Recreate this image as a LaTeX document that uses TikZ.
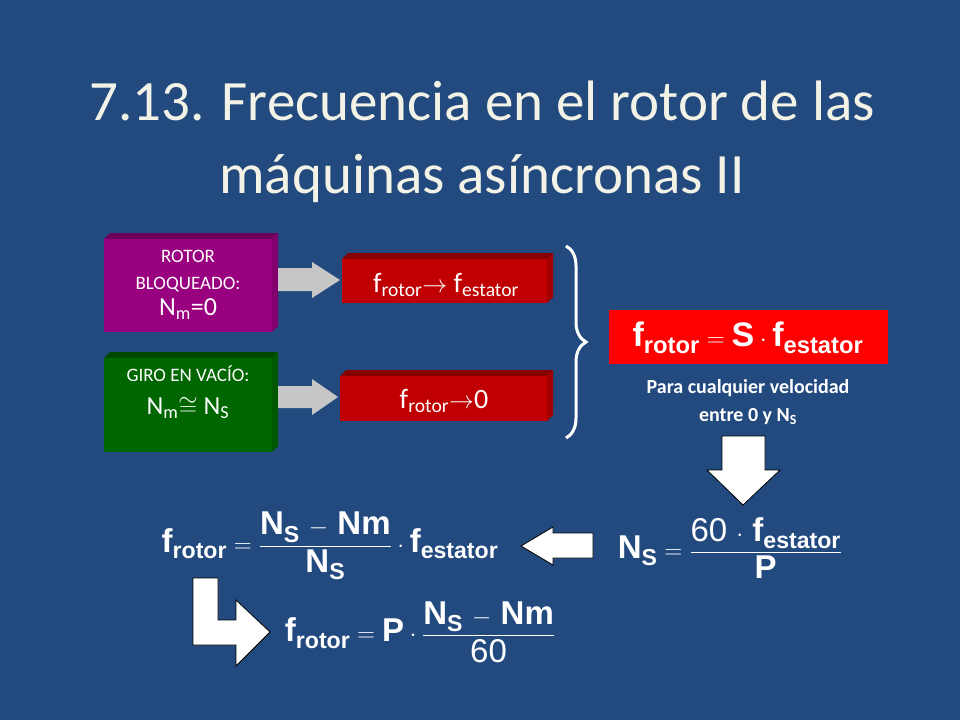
\documentclass[tikz,border=0pt]{standalone}
\usepackage{fontspec}
\usepackage{amsmath}
\usetikzlibrary{decorations.pathreplacing}
\setmainfont{Carlito}
\newfontfamily\arialb[BoldFont={Liberation Sans Bold}]{Liberation Sans}
\definecolor{bg}{HTML}{234A7E}
\definecolor{magb}{HTML}{990080}
\definecolor{grnb}{HTML}{006600}
\definecolor{redb}{HTML}{C00000}
\definecolor{titlec}{HTML}{F2F2E6}
\newcommand\sbs[1]{\textsubscript{#1}}
\newcommand\fa[1]{\hbox{\arialb\bfseries #1}}
\begin{document}
\begin{tikzpicture}[x=1pt,y=-1pt,
  whitearrow/.style={fill=white,draw=black,line width=0.8pt}]
\fill[bg] (0,0) rectangle (960,720);
\useasboundingbox (0,0) rectangle (960,720);
% title
\node[text=titlec,font=\fontsize{57}{73}\selectfont,align=center] (title) at (482,142) {7.13. Frecuencia en el rotor de las\\máquinas asíncronas II};
% 3D boxes
\newcommand\boxthree[5]{%
 \fill[#5!70!black] (#1,#2) -- ++(6,-6) -- (#3+6,#2-6) -- (#3,#2) -- cycle;
 \fill[#5!85!black] (#3,#2) -- (#3+6,#2-6) -- (#3+6,#4-6) -- (#3,#4) -- cycle;
 \fill[#5] (#1,#2) rectangle (#3,#4);}
\boxthree{104}{239}{272}{332}{magb}
\boxthree{104}{358}{272}{452}{grnb}
\boxthree{342}{259}{547}{303}{redb}
\boxthree{340}{376}{547}{421}{redb}
\fill[red] (609,310) rectangle (888,364);
\node[text=white,font=\fontsize{19}{27}\selectfont,align=center] (rb) at (188,285) {ROTOR\\BLOQUEADO:\\[-1pt]{\fontsize{26}{28}\selectfont N\sbs{m}=0}};
\node[text=white,font=\fontsize{19}{33}\selectfont,align=center] (gv) at (188,392) {GIRO EN VACÍO:\\{\fontsize{26}{28}\selectfont N\sbs{m}$\cong$ N\sbs{S}}};
\node[text=white,font=\fontsize{28}{30}\selectfont] (r1) at (446,285) {f\sbs{rotor}$\rightarrow$ f\sbs{estator}};
\node[text=white,font=\fontsize{28}{30}\selectfont] (r2) at (444,401) {f\sbs{rotor}$\rightarrow$0};
% gray arrows
\fill[gray!45] (278,268) -- (312,268) -- (312,262) -- (340,280) -- (312,298) -- (312,291) -- (278,291) -- cycle;
\fill[gray!45] (278,386) -- (312,386) -- (312,379) -- (338,397) -- (312,415) -- (312,408) -- (278,408) -- cycle;
% brace
\draw[white,line width=3pt,decorate,decoration={brace,amplitude=20pt}] (566,246) -- (566,438);
% red formula
\node[text=white,font=\fontsize{34}{36}\selectfont] (fs) at (748,338) {$\fa{f\textsubscript{rotor}} = \fa{S}\cdot \fa{f\textsubscript{estator}}$};
\node[text=white,font=\bfseries\fontsize{20}{28}\selectfont,align=center] (para) at (748,402) {Para cualquier velocidad\\entre 0 y N\sbs{S}};
% down arrow
\draw[whitearrow] (722,436) -- (765,436) -- (765,470) -- (780,470) -- (743,505) -- (707,470) -- (722,470) -- cycle;
% NS formula
\node[text=white,font=\fontsize{33}{36}\selectfont] (ns) at (730,548) {$\fa{N\textsubscript{S}} = \dfrac{\fa{\mdseries 60 $\cdot$ \bfseries f\textsubscript{estator}}}{\fa{P}}$};
% left arrow
\draw[whitearrow] (593,533) -- (553,533) -- (553,527) -- (521,546) -- (553,565) -- (553,558) -- (593,558) -- cycle;
% formula 1
\node[text=white,font=\fontsize{33}{36}\selectfont] (f1) at (330,546) {$\fa{f\textsubscript{rotor}} = \dfrac{\fa{N\textsubscript{S} $-$ Nm}}{\fa{N\textsubscript{S}}}\cdot\fa{f\textsubscript{estator}}$};
% L arrow
\draw[whitearrow] (193,578) -- (218,578) -- (218,620) -- (236,620) -- (236,600) -- (270,632) -- (236,666) -- (236,645) -- (193,645) -- cycle;
% formula 2
\node[text=white,font=\fontsize{33}{36}\selectfont] (f2) at (420,632) {$\fa{f\textsubscript{rotor}} = \fa{P}\cdot\dfrac{\fa{N\textsubscript{S} $-$ Nm}}{\fa{\mdseries 60}}$};
\end{tikzpicture}
\end{document}
